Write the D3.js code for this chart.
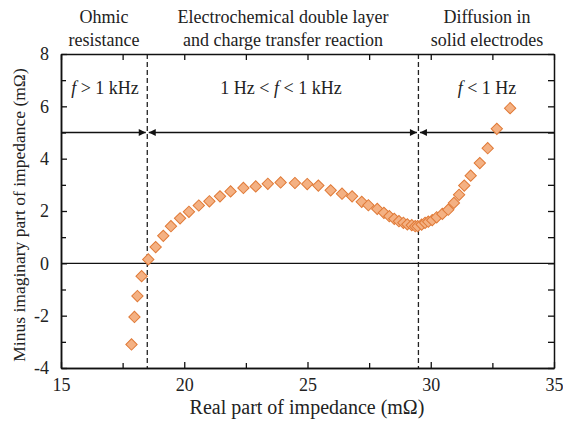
<!DOCTYPE html>
<html>
<head>
<meta charset="utf-8">
<script src="https://cdn.jsdelivr.net/npm/d3@7"></script>
</head>
<body style="margin:0; background:#fff">
<div id="chart"></div>
<script>
// Nyquist plot values (mOhm).
const realPart = [17.86, 17.98, 18.10, 18.27, 18.54, 18.84, 19.15, 19.46, 19.83, 20.19,
  20.59, 21.02, 21.45, 21.88, 22.40, 22.90, 23.39, 23.91, 24.49, 24.99,
  25.44, 25.94, 26.40, 26.81, 27.20, 27.47, 27.83, 28.10, 28.32, 28.52,
  28.71, 28.89, 29.05, 29.23, 29.37, 29.47, 29.63, 29.77, 29.90, 30.06,
  30.24, 30.47, 30.71, 30.94, 31.15, 31.36, 31.62, 31.99, 32.31, 32.68, 33.22];
const minusImag = [-3.10, -2.05, -1.25, -0.49, 0.15, 0.62, 1.05, 1.42, 1.72, 1.97,
  2.21, 2.37, 2.56, 2.75, 2.88, 2.94, 3.04, 3.09, 3.07, 3.03,
  2.97, 2.79, 2.66, 2.56, 2.35, 2.22, 2.08, 1.93, 1.80, 1.70,
  1.61, 1.55, 1.49, 1.46, 1.42, 1.42, 1.48, 1.55, 1.59, 1.65,
  1.76, 1.89, 2.05, 2.31, 2.62, 2.97, 3.35, 3.83, 4.40, 5.14, 5.93];

const xTicks = [15, 20, 25, 30, 35];
const xMinor = [17.5, 22.5, 27.5, 32.5];
const yTicks = [-4, -2, 0, 2, 4, 6, 8];
const yMinor = [-3, -1, 1, 3, 5, 7];

// Region boundaries and labels.
const bounds = [18.5, 29.5];
const arrowLevel = 5;
const regionTitles = [
  { x: 104, lines: ["Ohmic", "resistance"] },
  { x: 283, lines: ["Electrochemical double layer", "and charge transfer reaction"] },
  { x: 487, lines: ["Diffusion in", "solid electrodes"] }
];

const width = 563;
const height = 422;
const margin = { top: 54, right: 9, bottom: 54, left: 61 };
const font = "'Liberation Serif'";
const fontSize = "18px";

const svg = d3.select("#chart")
  .append("svg")
  .attr("width", width)
  .attr("height", height);

const x = d3.scaleLinear()
  .domain([15, 35])
  .range([margin.left, width - margin.right]);

const y = d3.scaleLinear()
  .domain([-4, 8])
  .range([height - margin.bottom, margin.top]);

// Arrow head marker.
svg.append("defs").append("marker")
  .attr("id", "head")
  .attr("viewBox", "0 0 10 10")
  .attr("refX", 10).attr("refY", 5)
  .attr("markerWidth", 9).attr("markerHeight", 7)
  .attr("markerUnits", "userSpaceOnUse")
  .attr("orient", "auto-start-reverse")
  .append("path")
  .attr("d", "M0,0 L10,5 L0,10 Z")
  .attr("fill", "#111");

// Zero line.
svg.append("line")
  .attr("x1", x(15)).attr("x2", x(35))
  .attr("y1", y(0)).attr("y2", y(0))
  .attr("stroke", "#111").attr("stroke-width", 1.3);

// Dashed region boundaries.
svg.selectAll(".bound")
  .data(bounds)
  .enter()
  .append("line")
  .attr("x1", d => x(d)).attr("x2", d => x(d))
  .attr("y1", y(8)).attr("y2", y(-4))
  .attr("stroke", "#222").attr("stroke-width", 1.3)
  .attr("stroke-dasharray", "5,3");

// Frequency arrows at y = 5.
const segs = [
  { a: 15, b: bounds[0], start: false, end: true },
  { a: bounds[0], b: bounds[1], start: true, end: true },
  { a: bounds[1], b: 35, start: true, end: false }
];
segs.forEach(function(s) {
  svg.append("line")
    .attr("x1", x(s.a) + (s.start ? 1.5 : 0))
    .attr("x2", x(s.b) - (s.end ? 1.5 : 0))
    .attr("y1", y(arrowLevel)).attr("y2", y(arrowLevel))
    .attr("stroke", "#111").attr("stroke-width", 1.3)
    .attr("marker-start", s.start ? "url(#head)" : null)
    .attr("marker-end", s.end ? "url(#head)" : null);
});

// Frequency labels.
const fLabels = [
  { x: 105, parts: [["f", true], [" > 1 kHz", false]] },
  { x: 281, parts: [["1 Hz < ", false], ["f", true], [" < 1 kHz", false]] },
  { x: 487, parts: [["f", true], [" < 1 Hz", false]] }
];
fLabels.forEach(function(l) {
  const t = svg.append("text")
    .attr("x", l.x).attr("y", y(7) + 14)
    .attr("text-anchor", "middle")
    .style("font-family", font)
    .style("font-size", fontSize)
    .attr("fill", "#222");
  l.parts.forEach(function(p) {
    t.append("tspan")
      .style("font-style", p[1] ? "italic" : "normal")
      .text(p[0]);
  });
});

// Data points as diamonds.
const pts = realPart.map((v, i) => [v, minusImag[i]]);
svg.selectAll(".pt")
  .data(pts)
  .enter()
  .append("path")
  .attr("d", d3.symbol().type(d3.symbolSquare).size(64))
  .attr("transform", d => "translate(" + x(d[0]) + "," + y(d[1]) + ") rotate(45)")
  .attr("fill", "#f4b183")
  .attr("stroke", "#e07a37")
  .attr("stroke-width", 1);

// Axes with inward ticks on all four sides.
function styleAxis(g) {
  g.selectAll("path").attr("stroke", "#111").attr("stroke-width", 1.5);
  g.selectAll("line").attr("stroke", "#111").attr("stroke-width", 1.3);
  g.selectAll("text")
    .style("font-family", font)
    .style("font-size", fontSize)
    .attr("fill", "#222");
}

svg.append("g")
  .attr("transform", "translate(0," + y(-4) + ")")
  .call(d3.axisBottom(x).tickValues(xTicks).tickSize(-6).tickSizeOuter(0).tickPadding(10))
  .call(styleAxis);
svg.append("g")
  .attr("transform", "translate(0," + y(-4) + ")")
  .call(d3.axisBottom(x).tickValues(xMinor).tickSize(-5).tickSizeOuter(0).tickFormat(""))
  .call(styleAxis);
svg.append("g")
  .attr("transform", "translate(0," + y(8) + ")")
  .call(d3.axisTop(x).tickValues(xTicks.concat(xMinor)).tickSize(-6).tickSizeOuter(0).tickFormat(""))
  .call(styleAxis);

svg.append("g")
  .attr("transform", "translate(" + x(15) + ",0)")
  .call(d3.axisLeft(y).tickValues(yTicks).tickSize(-6).tickSizeOuter(0).tickPadding(12)
    .tickFormat(d => d < 0 ? "-" + Math.abs(d) : d))
  .call(styleAxis);
svg.append("g")
  .attr("transform", "translate(" + x(15) + ",0)")
  .call(d3.axisLeft(y).tickValues(yMinor).tickSize(-5).tickSizeOuter(0).tickFormat(""))
  .call(styleAxis);
svg.append("g")
  .attr("transform", "translate(" + x(35) + ",0)")
  .call(d3.axisRight(y).tickValues(yTicks.concat(yMinor)).tickSize(-6).tickSizeOuter(0).tickFormat(""))
  .call(styleAxis);

// Region titles above the plot.
regionTitles.forEach(function(r) {
  r.lines.forEach(function(line, i) {
    svg.append("text")
      .attr("x", r.x).attr("y", 23 + i * 23)
      .attr("text-anchor", "middle")
      .style("font-family", font)
      .style("font-size", fontSize)
      .attr("fill", "#222")
      .text(line);
  });
});

// Axis titles.
svg.append("text")
  .attr("x", 307)
  .attr("y", 414)
  .attr("text-anchor", "middle")
  .style("font-family", font)
  .style("font-size", "20px")
  .attr("fill", "#222")
  .text("Real part of impedance (mΩ)");

svg.append("text")
  .attr("transform", "translate(25,215) rotate(-90)")
  .attr("text-anchor", "middle")
  .style("font-family", font)
  .style("font-size", "17.5px")
  .attr("fill", "#222")
  .text("Minus imaginary part of impedance (mΩ)");
</script>
</body>
</html>
